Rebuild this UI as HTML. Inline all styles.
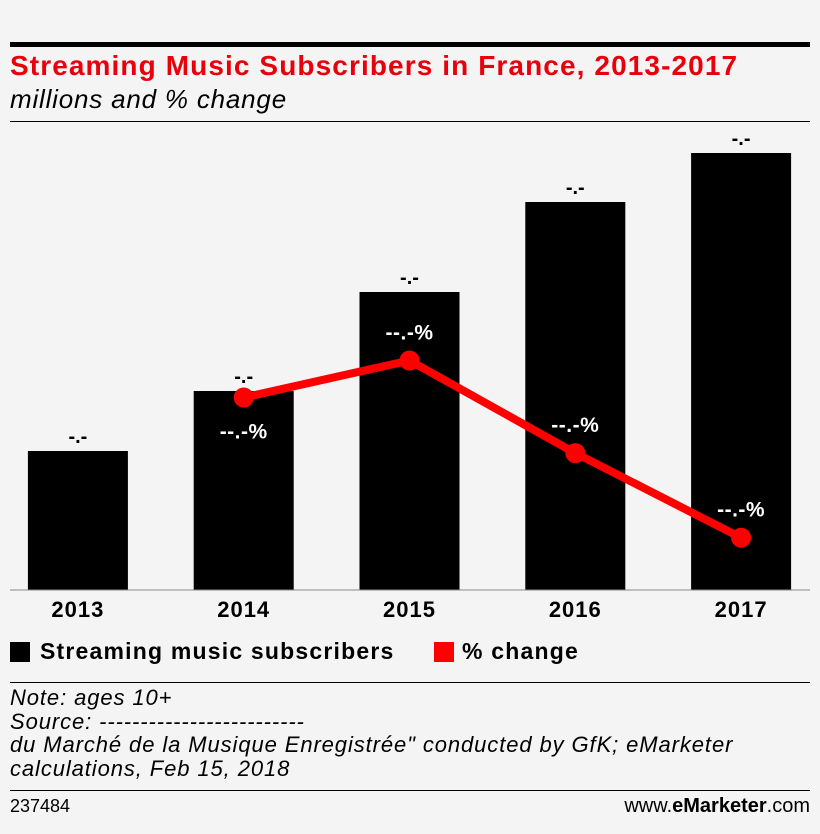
<!DOCTYPE html>
<html><head><meta charset="utf-8">
<style>
body{margin:0;background:#f4f4f4;width:820px;height:834px;overflow:hidden;font-family:"Liberation Sans",sans-serif;position:relative}
.abs{position:absolute}
</style></head><body>
<div class="abs" style="left:10px;top:42px;width:800px;height:5px;background:#000"></div>
<div class="abs" style="left:10px;top:50px;font-size:28px;font-weight:bold;color:#e8000b;letter-spacing:1.1px;white-space:nowrap">Streaming Music Subscribers in France, 2013-2017</div>
<div class="abs" style="left:10px;top:84px;font-size:26px;font-style:italic;color:#000;letter-spacing:0.8px">millions and % change</div>
<div class="abs" style="left:10px;top:121px;width:800px;height:1px;background:#000"></div>
<svg class="abs" style="left:0;top:0" width="820" height="834" font-family="Liberation Sans, sans-serif">
<g id="bars"></g><g id="line"></g><g id="labels"></g>
</svg>
<div class="abs" style="left:10px;top:638px;font-size:23px;font-weight:bold;display:flex;align-items:center;letter-spacing:1.2px;white-space:nowrap"><span style="display:inline-block;width:20px;height:20px;background:#000;margin-right:10px"></span>Streaming music subscribers</div>
<div class="abs" style="left:434px;top:638px;font-size:23px;font-weight:bold;display:flex;align-items:center;letter-spacing:1.2px"><span style="display:inline-block;width:20px;height:20px;background:#f00;margin-right:8px"></span>% change</div>
<div class="abs" style="left:10px;top:682px;width:800px;height:1px;background:#000"></div>
<div class="abs" style="left:10px;top:686px;font-size:22px;font-style:italic;line-height:23.5px;color:#000;letter-spacing:0.9px;white-space:nowrap">Note: ages 10+<br>Source: -------------------------<br>du Marché de la Musique Enregistrée" conducted by GfK; eMarketer<br>calculations, Feb 15, 2018</div>
<div class="abs" style="left:10px;top:790px;width:800px;height:1px;background:#000"></div>
<div class="abs" style="left:10px;top:796px;font-size:18px">237484</div>
<div class="abs" style="right:10px;top:795px;font-size:20px">www.<b>eMarketer</b>.com</div>
<script>
const categories=["2013","2014","2015","2016","2017"];
const subscribers=[1.39,1.99,2.98,3.88,4.37];
const pctChange=[null,43,50,32.5,16.5];
const barLabels=["-.-","-.-","-.-","-.-","-.-"];
const pctLabels=["","--.-%","--.-%","--.-%","--.-%"];
const NS="http://www.w3.org/2000/svg";
const base=590,bandStart=-5,band=165.8,barW=100;
const xC=i=>bandStart+band*i+band/2;
const yBar=v=>base-v*100;
const yPct=p=>625-p*5.29;
function mk(t,a,parent){const e=document.createElementNS(NS,t);for(const k in a)e.setAttribute(k,a[k]);document.getElementById(parent).appendChild(e);return e;}
categories.forEach((c,i)=>{
 const r=mk("rect",{x:xC(i)-barW/2,y:yBar(subscribers[i]),width:barW,height:base-yBar(subscribers[i]),fill:"#000"},"bars");
 
 
 const t=mk("text",{x:xC(i),y:yBar(subscribers[i])-8,"text-anchor":"middle","font-size":"20","font-weight":"bold",fill:"#000"},"labels");t.textContent=barLabels[i];
 
 
 const x=mk("text",{x:xC(i),y:617,"text-anchor":"middle","font-size":"22","font-weight":"bold",fill:"#000","letter-spacing":"1"},"labels");x.textContent=c;
 
 
});
const ax=mk("line",{x1:10,x2:810,y1:base,y2:base,stroke:"#888","stroke-width":1},"bars");


const pts=[];pctChange.forEach((p,i)=>{if(p!==null)pts.push([xC(i),yPct(p),i]);});
const pl=mk("polyline",{points:pts.map(p=>p[0]+","+p[1]).join(" "),fill:"none",stroke:"#f00","stroke-width":8,"stroke-linejoin":"round"},"line");


pts.forEach((p,k)=>{
 const c=mk("circle",{cx:p[0],cy:p[1],r:10,fill:"#f00"},"line");
 
 
 const below=k===0;
 const t=mk("text",{x:p[0],y:below?p[1]+41:p[1]-21,"text-anchor":"middle","font-size":"21","font-weight":"bold",fill:"#fff","letter-spacing":"0.5"},"labels");t.textContent=pctLabels[p[2]];
 
 
});
</script>
</body></html>
